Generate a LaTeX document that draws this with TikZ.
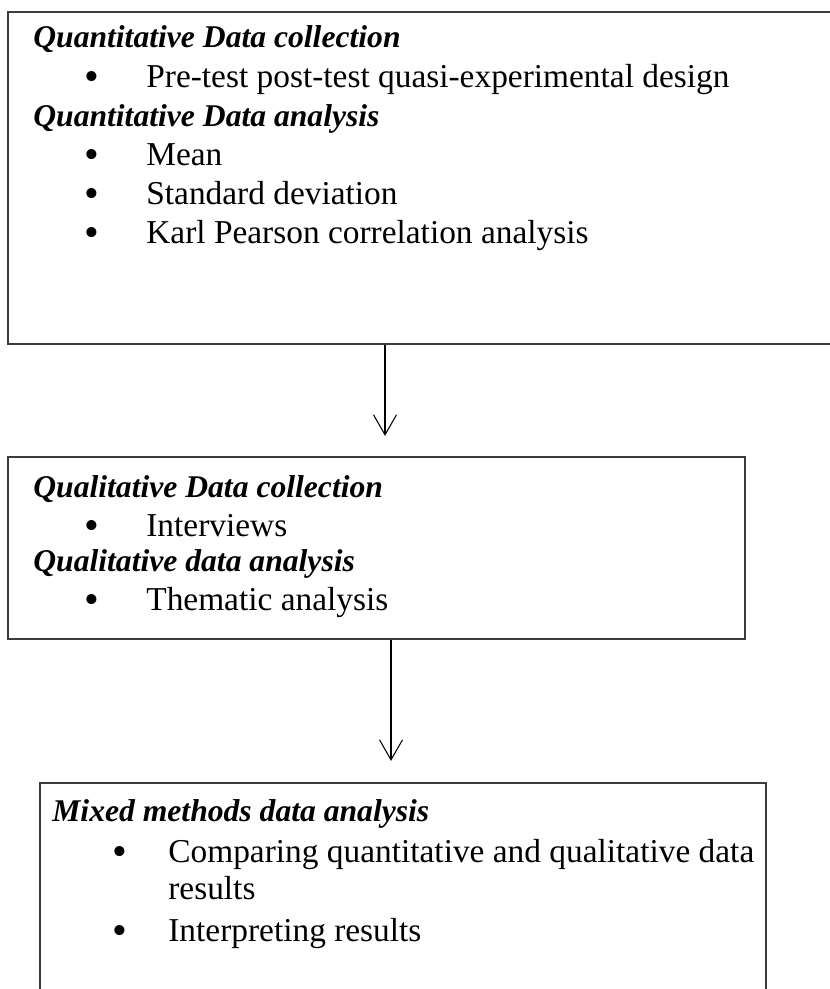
\documentclass[tikz,border=0pt]{standalone}
\usepackage{fontspec}
\setmainfont{Liberation Serif}
\usetikzlibrary{arrows.meta, positioning}
\definecolor{boxgray}{RGB}{60, 60, 60}

\begin{document}
\begin{tikzpicture}[x=0.02cm, y=-0.02cm,
    box/.style={rectangle, draw=boxgray, line width=1.3pt, inner sep=0pt},
    head/.style={anchor=base west, inner sep=0pt, font=\fontsize{18}{22}\selectfont\bfseries\itshape},
    item/.style={anchor=base west, inner sep=0pt, font=\fontsize{19}{23}\selectfont},
    dot/.style={anchor=base west, inner sep=0pt, font=\fontsize{24}{28}\selectfont},
    arr/.style={-{Straight Barb[length=0.4cm, width=0.46cm]}, line width=0.6pt}]
    \useasboundingbox (0, 0) rectangle (830, 989);

    % Kasten 1
    \node[box, minimum width=16.48cm, minimum height=6.64cm] (quant) at (420, 178) {};
    \node[head] (quanthead1) at (33, 48) {Quantitative Data collection};
    \node[dot] (qdot1) at (84, 91) {•};
    \node[item] (qitem1) at (146, 88) {Pre-test post-test quasi-experimental design};
    \node[head] (quanthead2) at (33, 127) {Quantitative Data analysis};
    \node[dot] (qdot2) at (84, 169) {•};
    \node[item] (qitem2) at (146, 166) {Mean};
    \node[dot] (qdot3) at (84, 208) {•};
    \node[item] (qitem3) at (146, 205) {Standard deviation};
    \node[dot] (qdot4) at (84, 247) {•};
    \node[item] (qitem4) at (146, 244) {Karl Pearson correlation analysis};

    % Kasten 2
    \node[box, minimum width=14.74cm, minimum height=3.64cm] (qual) at (376.5, 548) {};
    \node[head] (qualhead1) at (33, 497) {Qualitative Data collection};
    \node[dot] (ldot1) at (84, 539) {•};
    \node[item] (litem1) at (146, 536) {Interviews};
    \node[head] (qualhead2) at (33, 571) {Qualitative data analysis};
    \node[dot] (ldot2) at (84, 613) {•};
    \node[item] (litem2) at (146, 610) {Thematic analysis};

    % Kasten 3
    \node[box, minimum width=14.52cm, minimum height=4.4cm] (mixed) at (403, 893) {};
    \node[head] (mixedhead) at (52, 821) {Mixed methods data analysis};
    \node[dot] (mdot1) at (112, 865) {•};
    \node[item] (mitem1) at (168, 862) {Comparing quantitative and qualitative data};
    \node[item] (mitem1b) at (168, 899) {results};
    \node[dot] (mdot2) at (112, 944) {•};
    \node[item] (mitem2) at (168, 941) {Interpreting results};

    % Pfeile
    \coordinate (a1) at (385, 0);
    \coordinate (a2) at (391, 0);
    \draw[arr, shorten >=0.4cm] (quant.south -| a1) -- (qual.north -| a1);
    \draw[arr, shorten >=0.42cm] (qual.south -| a2) -- (mixed.north -| a2);
\end{tikzpicture}
\end{document}
